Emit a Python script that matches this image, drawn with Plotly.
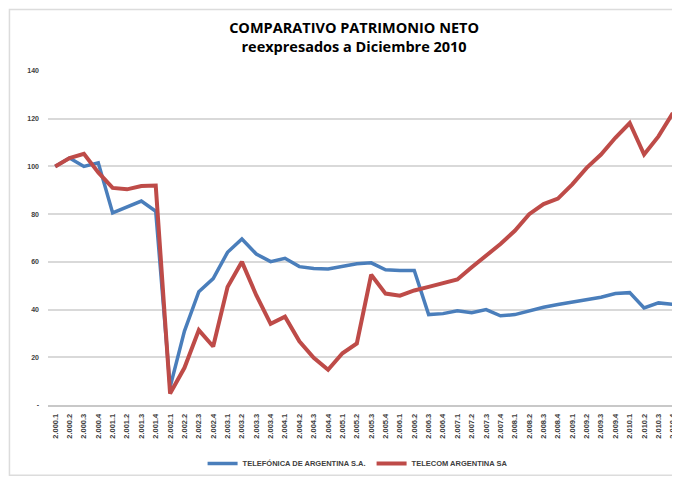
import plotly.graph_objects as go

# quarters 2.000.1 .. 2.010.4
quarters = [f"2.{y:03d}.{q}" for y in range(0, 11) for q in range(1, 5)]

telefonica = [100, 103.5, 100, 101.5, 80.5, 83, 85.5, 81.2, 7.5, 31, 47.5, 53,
              64, 69.6, 63.3, 60.1, 61.5, 58, 57.2, 57, 58, 59.2,
              59.6, 56.7, 56.4, 56.4, 37.9, 38.3, 39.5, 38.7, 40, 37.4,
              37.9, 39.6, 41, 42.1, 43.2, 44.3, 45.2, 46.7, 47.1, 40.7,
              42.8, 42.2]

telecom = [100, 103.5, 105.3, 97.5, 91, 90.4, 91.8, 92, 4.8, 15.6, 31.4, 24.5,
           49.5, 60, 46, 34, 37, 26.7, 19.8, 14.8, 21.7, 25.8,
           54.6, 46.7, 45.8, 48, 49.5, 51, 52.6, 57.7, 62.6, 67.5,
           73, 80, 84.2, 86.5, 92.5, 99.4, 105, 112, 118.2, 105,
           112.6, 122.4]

y_ticks = [0, 20, 40, 60, 80, 100, 120, 140]
y_labels = ["-", "20", "40", "60", "80", "100", "120", "140"]

fig = go.Figure()
fig.add_trace(go.Scatter(x=quarters, y=telefonica, mode="lines",
                         name="TELEFÓNICA DE ARGENTINA S.A.",
                         line=dict(color="#4a7ebb", width=3.5)))
fig.add_trace(go.Scatter(x=quarters, y=telecom, mode="lines",
                         name="TELECOM ARGENTINA SA",
                         line=dict(color="#be4b48", width=4)))

# page body has an 8px margin, so the figure is sized/offset to compensate
fig.update_layout(
    width=672, height=470,
    paper_bgcolor="white", plot_bgcolor="white",
    margin=dict(l=40, r=0, t=63, b=71),
    title=dict(text="<b>COMPARATIVO PATRIMONIO NETO<br>reexpresados a Diciembre 2010</b>",
               x=0.515, xanchor="center", y=0.946, yanchor="middle",
               font=dict(family="Open Sans, Liberation Sans, sans-serif", size=14.5, color="black")),
    font=dict(family="Liberation Sans, Arial, sans-serif", color="#404040"),
    showlegend=True,
    legend=dict(orientation="h", x=0.512, xanchor="center", y=-0.176, yanchor="middle",
                font=dict(size=7.5, color="#404040", weight="bold"), itemwidth=30,
                tracegroupgap=0, entrywidth=124, bgcolor="rgba(0,0,0,0)"),
    shapes=[dict(type="rect", xref="paper", yref="paper", x0=-0.061, x1=1.02, y0=-0.21, y1=1.184,
                 line=dict(color="#dcdcdc", width=1.5), fillcolor="rgba(0,0,0,0)", layer="above")],
)
fig.update_xaxes(type="category", tickangle=-90,
                 tickfont=dict(size=7.5, color="#404040", weight="bold"),
                 showgrid=False, showline=True, linecolor="#c8c8c8", linewidth=1.5,
                 ticks="", range=[-0.5, len(quarters) - 0.5], automargin=False,
                 ticklabelstandoff=4)
fig.update_yaxes(range=[0, 140], tickvals=y_ticks, ticktext=y_labels,
                 tickfont=dict(size=7, color="#404040", weight="bold"),
                 showgrid=True, gridcolor="#d9d9d9", gridwidth=1.5, zeroline=False,
                 ticks="", ticklabelstandoff=8, automargin=False)

fig.write_html("out.html")
